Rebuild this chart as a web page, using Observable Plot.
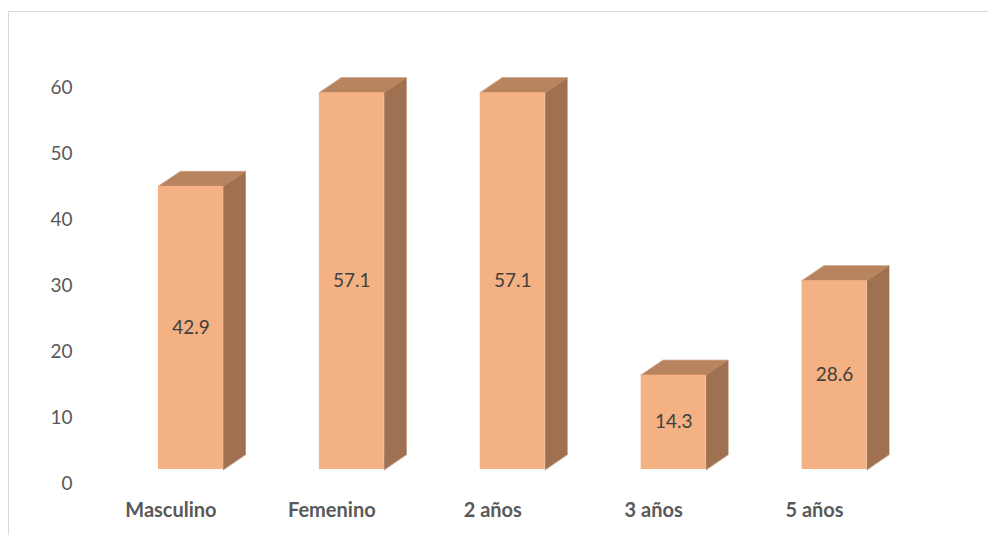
<!DOCTYPE html>
<html>
<head>
<meta charset="utf-8">
<script src="https://cdn.jsdelivr.net/npm/d3@7"></script>
<script src="https://cdn.jsdelivr.net/npm/@observablehq/plot@0.6"></script>
<style>
  html, body { margin: 0; padding: 0; background: #fff; overflow: hidden; }
  #frame { position: absolute; left: 8px; top: 11px; width: 1200px; height: 800px;
           border-left: 1px solid #d9d9d9; border-top: 1px solid #d9d9d9; }
  #chart { position: absolute; left: 0; top: 0; }
</style>
</head>
<body>
<div id="frame"></div>
<div id="chart"></div>
<script>
// Data
const categories = ["Masculino", "Femenino", "2 años", "3 años", "5 años"];
const values = [42.9, 57.1, 57.1, 14.3, 28.6];
const yTicks = [0, 10, 20, 30, 40, 50, 60];

// Styling constants (3D look)
const half = 0.2019;     // half front width, in x-units
const depthX = 0.1366;   // depth offset in x-units
const depthY = 2.27;     // depth offset in y-units
const frontColor = "#F4B183";
const topColor = "#B8835F";
const sideColor = "#A07150";

const bars = values.map((v, i) => ({i, v, cat: categories[i]}));

const sidePts = bars.flatMap(b => [
  {z: b.i, x: b.i + half, y: 0},
  {z: b.i, x: b.i + half, y: b.v},
  {z: b.i, x: b.i + half + depthX, y: b.v + depthY},
  {z: b.i, x: b.i + half + depthX, y: depthY}
]);
const topPts = bars.flatMap(b => [
  {z: b.i, x: b.i - half, y: b.v},
  {z: b.i, x: b.i + half, y: b.v},
  {z: b.i, x: b.i + half + depthX, y: b.v + depthY},
  {z: b.i, x: b.i - half + depthX, y: b.v + depthY}
]);

const font = "Lato, 'Open Sans', sans-serif";

const chart = Plot.plot({
  width: 988,
  height: 535,
  marginLeft: 110,
  marginRight: 73.5,
  marginTop: 73,
  marginBottom: 66,
  style: {fontFamily: font, background: "transparent"},
  x: {domain: [-0.5, 4.5], axis: null},
  y: {domain: [0, 60], axis: null},
  marks: [
    Plot.line(sidePts, {x: "x", y: "y", z: "z", fill: sideColor, stroke: sideColor, strokeWidth: 0.6, curve: "linear-closed"}),
    Plot.line(topPts, {x: "x", y: "y", z: "z", fill: topColor, stroke: topColor, strokeWidth: 0.6, curve: "linear-closed"}),
    Plot.rectY(bars, {x1: d => d.i - half, x2: d => d.i + half, y1: 0, y2: "v", fill: frontColor}),
    Plot.text(bars, {x: "i", y: d => d.v / 2, text: d => d.v.toFixed(1), fontSize: 19, fill: "#404040", fontFamily: font}),
    Plot.axisY({ticks: yTicks, tickSize: 0, tickPadding: 38, dy: 14, fontSize: 19, color: "#595959", label: null}),
    Plot.axisX({ticks: [0, 1, 2, 3, 4], tickFormat: i => categories[i], tickSize: 0, tickPadding: 33, dx: -20, fontSize: 20, fontWeight: "bold", color: "#595959", label: null})
  ]
});
document.getElementById("chart").appendChild(chart);
</script>
</body>
</html>
